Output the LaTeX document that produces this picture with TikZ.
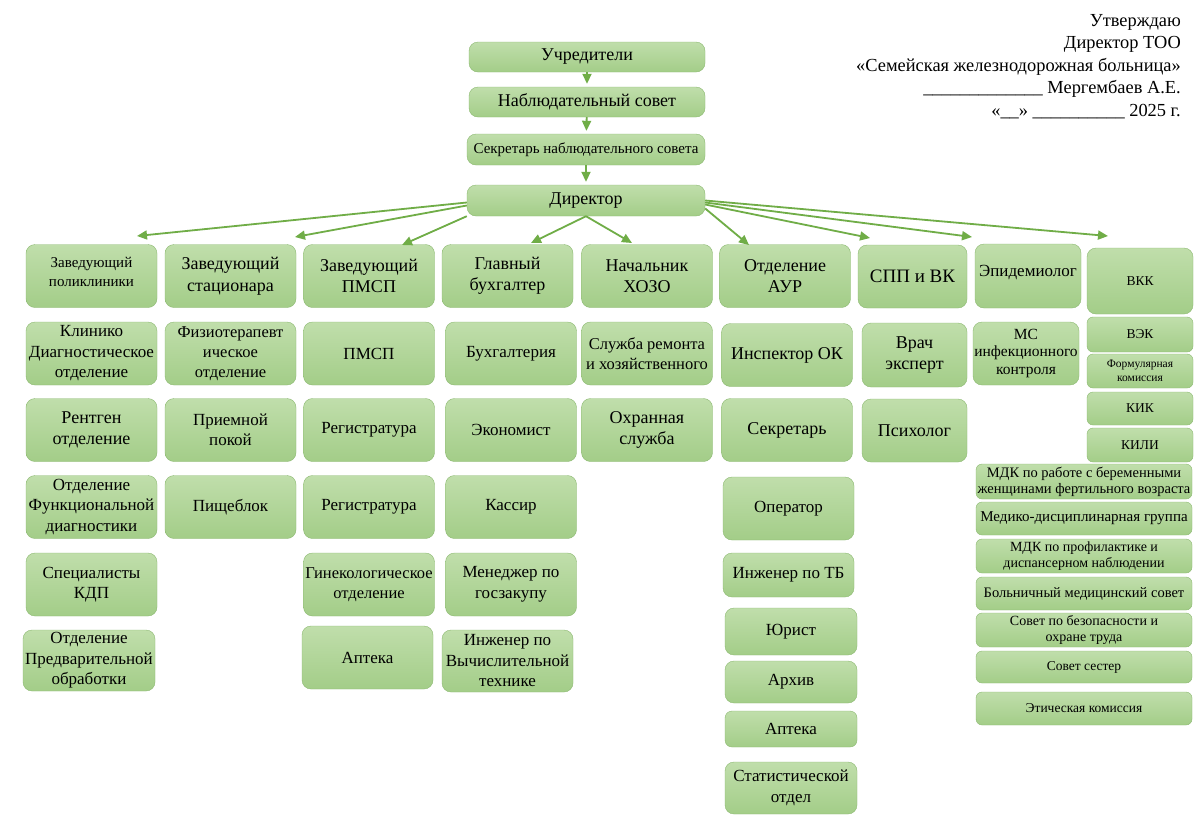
\documentclass[tikz,border=0pt]{standalone}
\usepackage{fontspec}
\setmainfont{Liberation Serif}
\usetikzlibrary{arrows.meta}

\definecolor{boxtop}{HTML}{C0DEAB}
\definecolor{boxbot}{HTML}{A3CD88}
\definecolor{boxline}{HTML}{8CB971}
\definecolor{arrowgreen}{HTML}{70AD47}

\begin{document}
\begin{tikzpicture}[x=1pt,y=-1pt,
  unit/.style={rectangle,rounded corners=9pt,draw=boxline,top color=boxtop,bottom color=boxbot,
    align=center,inner sep=1pt,font=\fontsize{17}{20.5}\selectfont},
  big/.style={unit,font=\fontsize{18}{21.5}\selectfont},
  small/.style={unit,rounded corners=6pt,font=\fontsize{13.5}{15.5}\selectfont},
  col/.style={minimum width=131pt,minimum height=63pt},
  line/.style={draw=arrowgreen,line width=1.8pt,-{Triangle[length=10pt,width=9pt]}}]

  \useasboundingbox[fill=white] (0,0) rectangle (1200,831);

  % heading
  \node[anchor=north east,align=right,inner sep=0pt,font=\fontsize{18.4}{22.5}\selectfont] (utv) at (1181,14)
    {Утверждаю\\Директор ТОО\\«Семейская железнодорожная больница»\\
     \_\_\_\_\_\_\_\_\_\_\_\_\_ Мергембаев А.Е.\\«\_\_» \_\_\_\_\_\_\_\_\_\_ 2025 г.};

  % top chain
  \node[big,minimum width=236pt,minimum height=30pt] (uchred) at (587,57) {Учредители};
  \node[big,minimum width=236pt,minimum height=30pt] (nabl) at (587,102) {Наблюдательный совет};
  \node[unit,minimum width=238pt,minimum height=31pt,font=\fontsize{15}{17}\selectfont] (sekrns) at (586,149.5) {Секретарь наблюдательного совета};
  \node[big,minimum width=238pt,minimum height=31pt] (dir) at (586,200.5) {Директор};

  \draw[line,shorten >=3pt] (uchred) -- (nabl);
  \draw[line,shorten >=3pt] (nabl) -- (sekrns);
  \draw[line,shorten >=3pt] (sekrns) -- (dir);

  % first column
  \node[unit,col,font=\fontsize{15}{19}\selectfont,text depth=9pt] (polikl) at (91.5,276) {Заведующий\\поликлиники};
  \node[unit,col] (klin) at (91.5,353.5) {Клинико\\Диагностическое\\отделение};
  \node[unit,col,font=\fontsize{18}{21.5}\selectfont] (rentg) at (91.5,430) {Рентген\\отделение};
  \node[unit,col] (funk) at (91.5,507) {Отделение\\Функциональной\\диагностики};
  \node[unit,col] (kdp) at (91.5,584.5) {Специалисты\\КДП};
  \node[unit,minimum width=132pt,minimum height=61pt] (predv) at (89,660.5) {Отделение\\Предварительной\\обработки};

  % second column
  \node[big,col] (stac) at (230.5,276) {Заведующий\\стационара};
  \node[unit,col,font=\fontsize{16.5}{20}\selectfont] (fizio) at (230.5,353.5) {Физиотерапевт\\ическое\\отделение};
  \node[unit,col] (priem) at (230.5,430) {Приемной\\покой};
  \node[unit,col] (pishe) at (230.5,507) {Пищеблок};

  % third column
  \node[big,col] (zavpmsp) at (369,276) {Заведующий\\ПМСП};
  \node[unit,col] (pmsp) at (369,353.5) {ПМСП};
  \node[unit,col] (reg1) at (369,430) {Регистратура};
  \node[unit,col] (reg2) at (369,507) {Регистратура};
  \node[unit,col,font=\fontsize{16.5}{20}\selectfont] (gineko) at (369,584.5) {Гинекологическое\\отделение};
  \node[unit,col] (apteka1) at (367.5,657.5) {Аптека};

  % fourth column
  \node[big,col] (glbuh) at (507.5,276) {Главный\\бухгалтер};
  \node[unit,col] (buh) at (511,353.5) {Бухгалтерия};
  \node[unit,col] (econ) at (511,430) {Экономист};
  \node[unit,col] (kassir) at (511,507) {Кассир};
  \node[unit,col] (menedzh) at (511,584.5) {Менеджер по\\госзакупу};
  \node[unit,minimum width=131pt,minimum height=62pt] (ingvt) at (507.5,661) {Инженер по\\Вычислительной\\технике};

  % fifth column
  \node[big,col] (hozo) at (647,276) {Начальник\\ХОЗО};
  \node[unit,col,font=\fontsize{16.5}{19.5}\selectfont] (remont) at (647,353.5) {Служба ремонта\\и хозяйственного};
  \node[big,col] (ohrana) at (647,430) {Охранная\\служба};

  % sixth column
  \node[big,col] (aur) at (785,276) {Отделение\\АУР};
  \node[big,col] (inspok) at (787,355) {Инспектор ОК};
  \node[big,col] (sekret) at (787,430) {Секретарь};
  \node[unit,col] (operator) at (788.5,508.5) {Оператор};
  \node[unit,minimum width=131pt,minimum height=44pt] (ingtb) at (788.5,575) {Инженер по ТБ};
  \node[unit,minimum width=132pt,minimum height=47pt] (jurist) at (791,631.5) {Юрист};
  \node[unit,minimum width=132pt,minimum height=42pt] (arhiv) at (791,682) {Архив};
  \node[unit,minimum width=132pt,minimum height=36pt,rounded corners=7pt] (apteka2) at (791,729) {Аптека};
  \node[unit,minimum width=132pt,minimum height=52pt] (stat) at (791,788) {Статистической\\отдел};

  % seventh column
  \node[unit,minimum width=109pt,minimum height=63pt,font=\fontsize{19}{22}\selectfont] (spp) at (912.5,276.5) {СПП и ВК};
  \node[big,minimum width=105pt,minimum height=64pt] (vrach) at (914.5,355) {Врач\\эксперт};
  \node[big,minimum width=105pt,minimum height=63pt] (psih) at (914.5,430.5) {Психолог};

  % eighth column
  \node[unit,minimum width=106pt,minimum height=64pt,text depth=10pt] (epid) at (1028,276) {Эпидемиолог};
  \node[unit,minimum width=106pt,minimum height=63pt,font=\fontsize{15.5}{17.5}\selectfont] (mskontr) at (1026,353.5) {МС\\инфекционного\\контроля};

  % commissions
  \node[small,minimum width=106pt,minimum height=66pt,rounded corners=9pt] (vkk) at (1140,281) {ВКК};
  \node[small,minimum width=106pt,minimum height=35pt] (vek) at (1140,334.5) {ВЭК};
  \node[small,minimum width=106pt,minimum height=34pt,font=\fontsize{11.5}{13.5}\selectfont] (formul) at (1140,371) {Формулярная\\комиссия};
  \node[small,minimum width=106pt,minimum height=33pt] (kik) at (1140,408.5) {КИК};
  \node[small,minimum width=106pt,minimum height=34pt] (kili) at (1140,445) {КИЛИ};

  \node[small,minimum width=216pt,minimum height=35pt,font=\fontsize{14.5}{16}\selectfont] (mdkber) at (1084,481.5) {МДК по работе с беременными\\женщинами фертильного возраста};
  \node[small,minimum width=216pt,minimum height=33pt,font=\fontsize{15}{17}\selectfont] (medgr) at (1084,518.5) {Медико-дисциплинарная группа};
  \node[small,minimum width=216pt,minimum height=34pt,font=\fontsize{14}{15.5}\selectfont] (mdkprof) at (1084,556) {МДК по профилактике и\\диспансерном наблюдении};
  \node[small,minimum width=216pt,minimum height=33pt,font=\fontsize{14.5}{16}\selectfont] (bolsov) at (1084,593.5) {Больничный медицинский совет};
  \node[small,minimum width=216pt,minimum height=34pt,font=\fontsize{14}{15.5}\selectfont] (sovbez) at (1084,630) {Совет по безопасности и\\охране труда};
  \node[small,minimum width=216pt,minimum height=32pt] (sovses) at (1084,667) {Совет сестер};
  \node[small,minimum width=216pt,minimum height=33pt] (etich) at (1084,708.5) {Этическая комиссия};

  % arrow ends over the heads
  \coordinate (tpolikl) at (137,236);
  \coordinate (tstac) at (295,237);
  \coordinate (tpmsp) at (402,245);
  \coordinate (tglbuh) at (531,243);
  \coordinate (thozo) at (632,243);
  \coordinate (taur) at (749,245);
  \coordinate (tspp) at (870,238);
  \coordinate (tepid) at (972,237);
  \coordinate (tvkk) at (1108,236);

  \draw[line] ([yshift=-2pt]dir.west) -- (tpolikl);
  \draw[line] ([yshift=-5pt]dir.west) -- (tstac);
  \draw[line] (dir.south west) -- (tpmsp);
  \draw[line] (dir.south) -- (tglbuh);
  \draw[line] (dir.south) -- (thozo);
  \draw[line] ([yshift=-8pt]dir.east) -- (taur);
  \draw[line] ([yshift=-4pt]dir.east) -- (tspp);
  \draw[line] ([yshift=-2pt]dir.east) -- (tepid);
  \draw[line] (dir.east) -- (tvkk);

\end{tikzpicture}
\end{document}
